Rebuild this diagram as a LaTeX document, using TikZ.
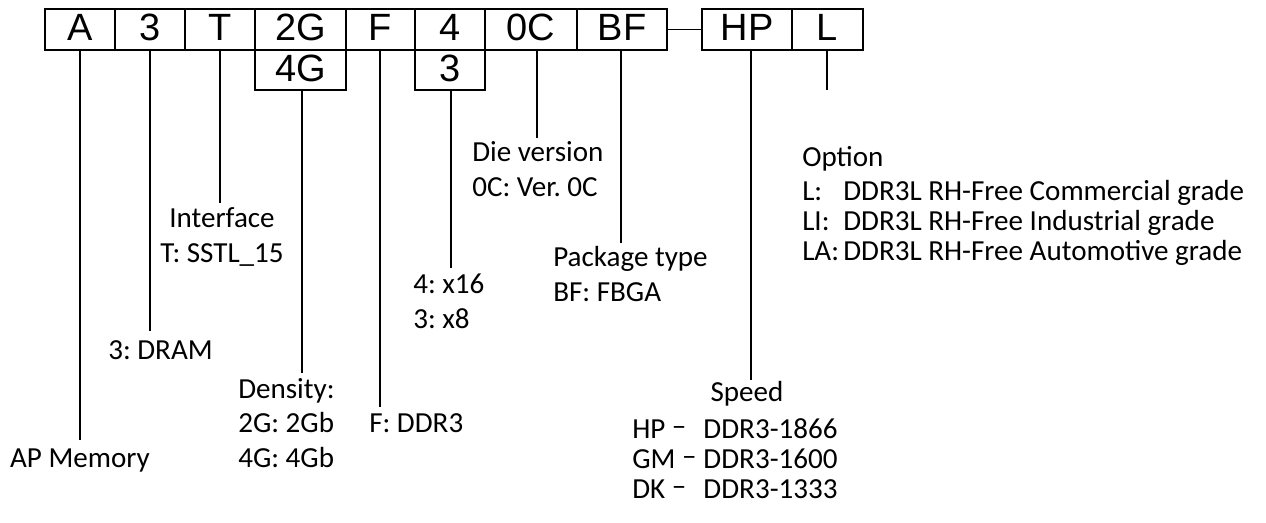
\documentclass[tikz,border=0pt]{standalone}
\usepackage{fontspec}
\setmainfont{Carlito}
\newfontfamily\boxfont{Liberation Sans}
\frenchspacing
\newcommand{\spdash}{\raisebox{0.08em}{–}}
\begin{document}
\begin{tikzpicture}[x=0.75pt,y=-0.75pt,
  cell/.style={draw, line width=0.9pt, inner sep=0pt, minimum height=30.75pt,
    font=\boxfont\fontsize{28.5}{30}\selectfont, text height=20.4pt, text depth=3.2pt},
  lbl/.style={inner sep=0pt, font=\fontsize{21.8}{26}\selectfont},
  lead/.style={line width=0.8pt}]
\useasboundingbox (0,0) rectangle (1266,523);
% code boxes
\node[cell, minimum width=52.5pt]  (nA)  at (80,29.5)    {A};
\node[cell, minimum width=52.5pt]  (n3)  at (150,29.5)   {3};
\node[cell, minimum width=52.5pt]  (nT)  at (220,29.5)   {T};
\node[cell, minimum width=68.25pt] (n2G) at (300.5,29.5) {2G};
\node[cell, minimum width=51.75pt] (nF)  at (380.5,29.5) {F};
\node[cell, minimum width=52.5pt]  (n4)  at (450,29.5)   {4};
\node[cell, minimum width=69pt]    (n0C) at (531,29.5)   {0C};
\node[cell, minimum width=67.5pt]  (nBF) at (622,29.5)   {BF};
\node[cell, minimum width=67.5pt]  (nHP) at (747,29.5)   {HP};
\node[cell, minimum width=53.25pt] (nL)  at (827.5,29.5) {L};
\node[cell, minimum width=68.25pt, minimum height=30pt] (n4G) at (300.5,70) {4G};
\node[cell, minimum width=52.5pt, minimum height=30pt]  (n3b) at (450,70)   {3};
\draw[lead] (nBF.east) -- (nHP.west);
% lead line ends
\coordinate (eA)  at (80,440);
\coordinate (e3)  at (150,331);
\coordinate (eT)  at (220,203);
\coordinate (e4G) at (302,373);
\coordinate (eF)  at (380,407);
\coordinate (e3b) at (451,268);
\coordinate (e0C) at (537,138);
\coordinate (eBF) at (621,243);
\coordinate (eHP) at (751,380);
\coordinate (eL)  at (827,90);
\draw[lead] (eA  |- nA.south)  -- (eA);
\draw[lead] (e3  |- n3.south)  -- (e3);
\draw[lead] (eT  |- nT.south)  -- (eT);
\draw[lead] (e4G |- n4G.south) -- (e4G);
\draw[lead] (eF  |- nF.south)  -- (eF);
\draw[lead] (e3b |- n3b.south) -- (e3b);
\draw[lead] (e0C |- n0C.south) -- (e0C);
\draw[lead] (eBF |- nBF.south) -- (eBF);
\draw[lead] (eHP |- nHP.south) -- (eHP);
\draw[lead] (eL  |- nL.south)  -- (eL);
% labels
\node[lbl, anchor=base] (tA) at (80,467) {AP Memory};
\node[lbl, anchor=base west] (t3) at (108,360) {3: DRAM};
\node[lbl, anchor=base] (tT1) at (222,228) {Interface};
\node[lbl, anchor=base] (tT2) at (222,263) {T: SSTL\_15};
\node[lbl, anchor=base west] (tD1) at (238,398) {Density:};
\node[lbl, anchor=base west] (tD2) at (238,432) {2G: 2Gb};
\node[lbl, anchor=base west] (tD3) at (238,467) {4G: 4Gb};
\node[lbl, anchor=base west] (tF) at (369,432) {F: DDR3};
\node[lbl, anchor=base west] (tW1) at (413,294) {4: x16};
\node[lbl, anchor=base west] (tW2) at (413,329) {3: x8};
\node[lbl, anchor=base west] (tV1) at (472,162) {Die version};
\node[lbl, anchor=base west] (tV2) at (472,197) {0C: Ver. 0C};
\node[lbl, anchor=base west] (tP1) at (553,267) {Package type};
\node[lbl, anchor=base west] (tP2) at (553,302) {BF: FBGA};
\node[lbl, anchor=base west] (tO0) at (802,167) {Option};
\node[lbl, anchor=base west] (tO1) at (802,201) {\makebox[1.41em][l]{L:}DDR3L RH-Free Commercial grade};
\node[lbl, anchor=base west] (tO2) at (802,231) {\makebox[1.41em][l]{LI:}DDR3L RH-Free Industrial grade};
\node[lbl, anchor=base west] (tO3) at (802,261) {\makebox[1.41em][l]{LA:}DDR3L RH-Free Automotive grade};
\node[lbl, anchor=base] (tS0) at (747,402) {Speed};
\node[lbl, anchor=base west] (tS1) at (632,438) {\makebox[2.45em][l]{HP \spdash}DDR3-1866};
\node[lbl, anchor=base west] (tS2) at (632,468) {\makebox[2.45em][l]{GM \spdash}DDR3-1600};
\node[lbl, anchor=base west] (tS3) at (632,498) {\makebox[2.45em][l]{DK \spdash}DDR3-1333};
\end{tikzpicture}
\end{document}
